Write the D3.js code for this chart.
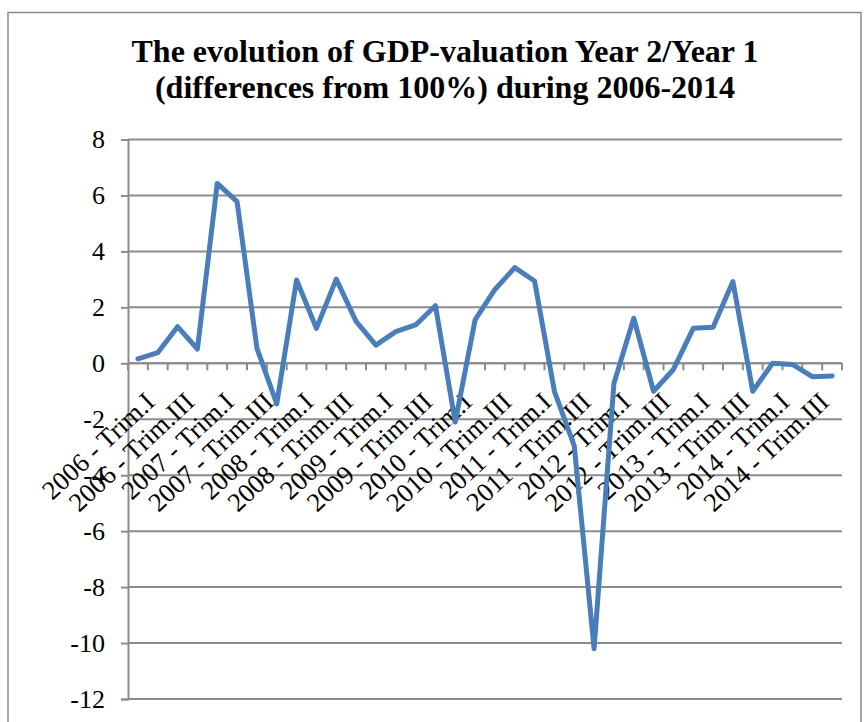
<!DOCTYPE html>
<html>
<head>
<meta charset="utf-8">
<script src="https://cdn.jsdelivr.net/npm/d3@7"></script>
<style>
  body { margin: 0; background: #fff; }
  svg text { font-family: "Liberation Serif", "Times New Roman", serif; }
</style>
</head>
<body>
<div id="container"></div>
<script>
const years = ["2006", "2007", "2008", "2009", "2010", "2011", "2012", "2013", "2014"];
const quarters = ["Trim.I", "Trim.II", "Trim.III", "Trim.IV"];
const categories = years.flatMap(y => quarters.map(q => `${y} - ${q}`));

const values = [
  0.16, 0.38, 1.31, 0.51, 6.43, 5.78, 0.54, -1.45,
  2.98, 1.25, 3.01, 1.5, 0.65, 1.13, 1.37, 2.06,
  -2.1, 1.55, 2.64, 3.42, 2.94, -1.0, -2.95, -10.2,
  -0.72, 1.61, -1.0, -0.22, 1.25, 1.29, 2.92, -1.0,
  0.0, -0.04, -0.48, -0.45
];

const yTicks = [-12, -10, -8, -6, -4, -2, 0, 2, 4, 6, 8];
const titleLines = [
  "The evolution of GDP-valuation Year 2/Year 1",
  "(differences from 100%) during 2006-2014"
];

const chart = () => {
  const width = 865, height = 722;
  const left = 128, right = 842, top = 139.5, bottom = 699;
  const font = "'Liberation Serif', 'Times New Roman', serif";

  const svg = d3.create("svg")
    .attr("width", width)
    .attr("height", height)
    .attr("font-family", font);

  // chart frame
  svg.append("rect")
    .attr("x", 8).attr("y", 12.5)
    .attr("width", 853).attr("height", 740)
    .attr("fill", "none")
    .attr("stroke", "#8c8c8c")
    .attr("stroke-width", 1.5);

  const x = d3.scaleBand().domain(categories).range([left, right]).padding(0);
  const xEdge = d3.scaleLinear().domain([0, categories.length]).range([left, right]);
  const y = d3.scaleLinear().domain([-12, 8]).range([bottom, top]);

  // title
  svg.append("g")
    .attr("font-size", 32)
    .attr("font-weight", "bold")
    .attr("text-anchor", "middle")
    .selectAll("text")
    .data(titleLines)
    .join("text")
    .attr("x", 445)
    .attr("y", (d, i) => 62 + i * 35.5)
    .text(d => d);

  // gridlines
  svg.append("g")
    .selectAll("line")
    .data(yTicks)
    .join("line")
    .attr("x1", left).attr("x2", right)
    .attr("y1", d => y(d)).attr("y2", d => y(d))
    .attr("stroke", "#8c8c8c")
    .attr("stroke-width", 2);

  // y axis
  const yAxis = svg.append("g")
    .attr("transform", `translate(${left},0)`)
    .call(d3.axisLeft(y).tickValues(yTicks).tickSize(7).tickPadding(16));
  yAxis.attr("font-family", font).attr("font-size", 26);
  yAxis.select(".domain").attr("stroke", "#8c8c8c").attr("stroke-width", 2);
  yAxis.selectAll(".tick line").attr("stroke", "#8c8c8c").attr("stroke-width", 2);
  yAxis.selectAll("text")
    .attr("fill", "#000")
    .text(d => d < 0 ? "-" + Math.abs(d) : d);

  // x axis at zero, ticks at category boundaries
  const y0 = y(0);
  svg.append("line")
    .attr("x1", left).attr("x2", right)
    .attr("y1", y0).attr("y2", y0)
    .attr("stroke", "#8c8c8c").attr("stroke-width", 2);
  svg.append("g")
    .selectAll("line")
    .data(d3.range(categories.length + 1))
    .join("line")
    .attr("x1", d => xEdge(d)).attr("x2", d => xEdge(d))
    .attr("y1", y0).attr("y2", y0 + 7)
    .attr("stroke", "#8c8c8c").attr("stroke-width", 2);

  // x labels, every other category
  svg.append("g")
    .attr("font-size", 26.5)
    .attr("text-anchor", "end")
    .selectAll("text")
    .data(categories.filter((d, i) => i % 2 === 0))
    .join("text")
    .attr("transform", d => `translate(${x(d) + x.bandwidth() / 2 + 12},${y0 + 34}) rotate(-43)`)
    .attr("dy", "0.35em")
    .text(d => d);

  // line
  const line = d3.line()
    .x((d, i) => x(categories[i]) + x.bandwidth() / 2)
    .y(d => y(d));

  svg.append("path")
    .datum(values)
    .attr("d", line)
    .attr("fill", "none")
    .attr("stroke", "#4a7ebb")
    .attr("stroke-width", 5)
    .attr("stroke-linejoin", "round")
    .attr("stroke-linecap", "round");

  return svg.node();
};

const container = document.getElementById("container");
container.innerHTML = '';
container.appendChild(chart());
</script>
</body>
</html>
